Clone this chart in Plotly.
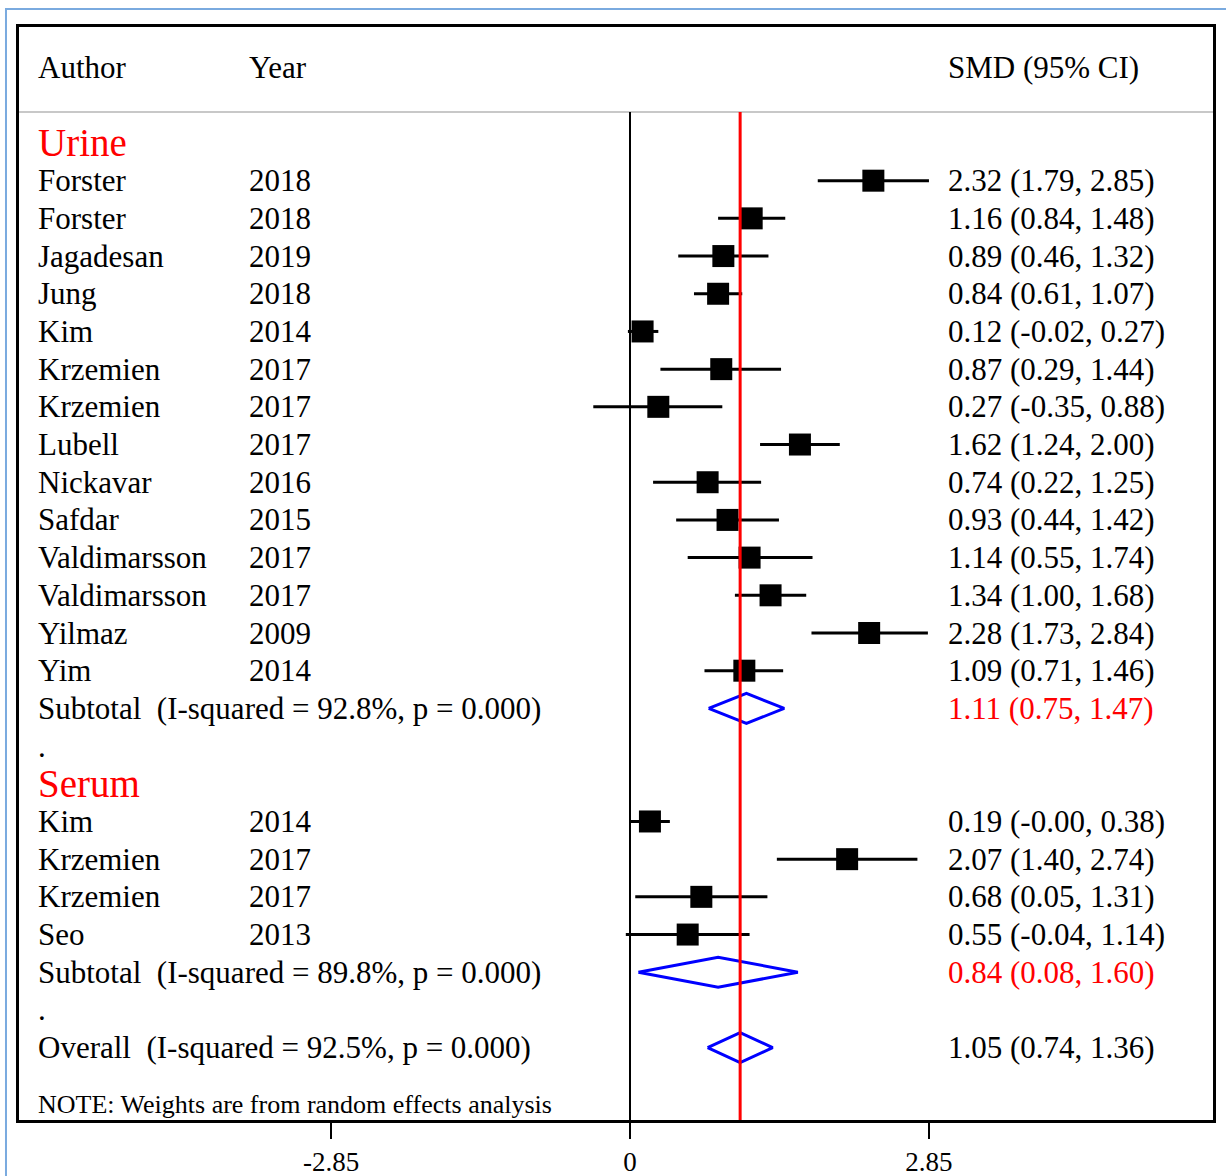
import plotly.graph_objects as go

# ---------------- data ----------------
urine_authors = ["Forster", "Forster", "Jagadesan", "Jung", "Kim", "Krzemien", "Krzemien",
                 "Lubell", "Nickavar", "Safdar", "Valdimarsson", "Valdimarsson", "Yilmaz", "Yim"]
urine_years = [2018, 2018, 2019, 2018, 2014, 2017, 2017, 2017, 2016, 2015, 2017, 2017, 2009, 2014]
urine_smd = [2.32, 1.16, 0.89, 0.84, 0.12, 0.87, 0.27, 1.62, 0.74, 0.93, 1.14, 1.34, 2.28, 1.09]
urine_lo = [1.79, 0.84, 0.46, 0.61, -0.02, 0.29, -0.35, 1.24, 0.22, 0.44, 0.55, 1.00, 1.73, 0.71]
urine_hi = [2.85, 1.48, 1.32, 1.07, 0.27, 1.44, 0.88, 2.00, 1.25, 1.42, 1.74, 1.68, 2.84, 1.46]

serum_authors = ["Kim", "Krzemien", "Krzemien", "Seo"]
serum_years = [2014, 2017, 2017, 2013]
serum_smd = [0.19, 2.07, 0.68, 0.55]
serum_lo = [-0.00, 1.40, 0.05, -0.04]
serum_hi = [0.38, 2.74, 1.31, 1.14]

group_names = ["Urine", "Serum"]
subtotal_stats = ["I-squared = 92.8%, p = 0.000", "I-squared = 89.8%, p = 0.000"]
subtotal_smd = [1.11, 0.84]
subtotal_lo = [0.75, 0.08]
subtotal_hi = [1.47, 1.60]

overall_stats = "I-squared = 92.5%, p = 0.000"
overall_smd = 1.05
overall_lo = 0.74
overall_hi = 1.36

tick_vals = [-2.85, 0, 2.85]
tick_text = ["-2.85", "0", "2.85"]

note_text = "NOTE: Weights are from random effects analysis"

# ---------------- styling ----------------
FONT = "Liberation Serif"
FS = 31
NB = "\u00a0"

groups = [
    (urine_authors, urine_years, urine_smd, urine_lo, urine_hi),
    (serum_authors, serum_years, serum_smd, serum_lo, serum_hi),
]

def ci_label(e, l, h):
    return f"{e:.2f} ({l:.2f}, {h:.2f})"

fig = go.Figure()
annotations = []

def add_text(x, y, text, color="black", size=FS):
    annotations.append(dict(x=x, y=y, xref="paper", yref="y", text=text, showarrow=False,
                            xanchor="left", yanchor="middle",
                            font=dict(family=FONT, size=size, color=color)))

X_AUTH, X_YEAR, X_SMD = 0.0140, 0.1910, 0.776

add_text(X_AUTH, -2, "Author")
add_text(X_YEAR, -2, "Year")
add_text(X_SMD, -2, "SMD (95% CI)")

ci_x, ci_y, pt_x, pt_y = [], [], [], []
row = 0
for gi, (auth, yrs, est, lo, hi) in enumerate(groups):
    add_text(X_AUTH, row, group_names[gi], color="red", size=39)
    row += 1
    for a, yv, e, l, h in zip(auth, yrs, est, lo, hi):
        add_text(X_AUTH, row, a)
        add_text(X_YEAR, row, str(yv))
        add_text(X_SMD, row, ci_label(e, l, h))
        ci_x += [l, h, None]
        ci_y += [row, row, None]
        pt_x.append(e)
        pt_y.append(row)
        row += 1
    # subtotal diamond
    e, l, h = subtotal_smd[gi], subtotal_lo[gi], subtotal_hi[gi]
    fig.add_trace(go.Scatter(x=[l, e, h, e, l], y=[row, row - 0.4, row, row + 0.4, row],
                             mode="lines", fill="toself", fillcolor="rgba(255,255,255,0)",
                             line=dict(color="blue", width=3), hoverinfo="skip", showlegend=False))
    add_text(X_AUTH, row, f"Subtotal{NB}{NB}({subtotal_stats[gi]})")
    add_text(X_SMD, row, ci_label(e, l, h), color="red")
    row += 1
    add_text(X_AUTH, row, ".")
    row += 1

# overall
fig.add_trace(go.Scatter(x=[overall_lo, overall_smd, overall_hi, overall_smd, overall_lo],
                         y=[row, row - 0.4, row, row + 0.4, row],
                         mode="lines", fill="toself", fillcolor="rgba(255,255,255,0)",
                         line=dict(color="blue", width=3), hoverinfo="skip", showlegend=False))
add_text(X_AUTH, row, f"Overall{NB}{NB}({overall_stats})")
add_text(X_SMD, row, ci_label(overall_smd, overall_lo, overall_hi))
add_text(X_AUTH, row + 1.5, note_text, size=26)

fig.add_trace(go.Scatter(x=ci_x, y=ci_y, mode="lines", line=dict(color="black", width=3),
                         hoverinfo="skip", showlegend=False))
fig.add_trace(go.Scatter(x=pt_x, y=pt_y, mode="markers",
                         marker=dict(symbol="square", size=22, color="black"),
                         hoverinfo="skip", showlegend=False))

Y_TOP, Y_BOT = -3.077, 25.92
SEP = -0.82

shapes = [
    # header separator
    dict(type="line", xref="paper", yref="y", x0=0, x1=1, y0=SEP, y1=SEP,
         line=dict(color="#c8c8c8", width=2)),
    # zero line
    dict(type="line", xref="x", yref="y", x0=0, x1=0, y0=SEP, y1=Y_BOT,
         line=dict(color="black", width=2)),
    # overall line
    dict(type="line", xref="x", yref="y", x0=overall_smd, x1=overall_smd, y0=SEP, y1=Y_BOT,
         line=dict(color="red", width=3)),
    # outer light blue frame
    dict(type="rect", xref="paper", yref="paper", x0=-0.0109, x1=1.2, y0=-0.2, y1=1.0165,
         line=dict(color="#7aaadf", width=2), fillcolor="rgba(0,0,0,0)"),
]

fig.update_layout(
    width=1226, height=1176, autosize=False,
    margin=dict(l=19, r=13, t=27, b=56),
    plot_bgcolor="white", paper_bgcolor="white",
    showlegend=False,
    annotations=annotations,
    shapes=shapes,
    xaxis=dict(range=[-5.825, 5.558], showgrid=False, zeroline=False, automargin=False,
               showline=True, linecolor="black", linewidth=3, mirror=True,
               ticks="outside", ticklen=16, tickwidth=2, tickcolor="black",
               tickvals=tick_vals, ticktext=tick_text,
               tickfont=dict(family=FONT, size=27, color="black")),
    yaxis=dict(range=[Y_BOT, Y_TOP], showgrid=False, zeroline=False, automargin=False,
               showline=True, linecolor="black", linewidth=3, mirror=True,
               showticklabels=False, ticks=""),
)

fig.write_html("out.html", config={"displayModeBar": False},
               post_script="document.body.style.margin='0';")
